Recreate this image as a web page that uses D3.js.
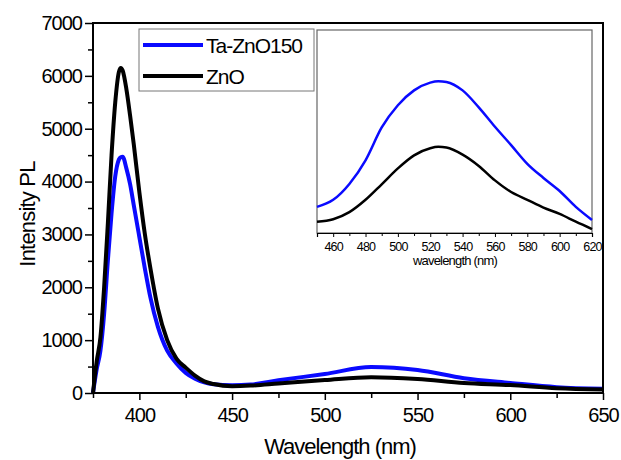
<html>
<head>
    <style>
        body{ margin:0; background:#fff; }
        svg text{ font-family:"Liberation Sans", Arial, sans-serif; }
    </style>
</head>
<body>
<svg id="chart" width="621" height="460"></svg>
<script src="https://cdnjs.cloudflare.com/ajax/libs/d3/7.8.5/d3.min.js"></script>
<script>
    // main spectra
    var wavelength = [375, 377, 379, 381, 383, 385, 387, 389, 390, 391, 393, 395, 397, 400, 403, 406, 410, 415, 420, 425, 430, 435, 440, 450, 460, 475, 500, 525, 550, 575, 600, 625, 650];
    var taZnO150 = [0, 450, 800, 1500, 2500, 3400, 4100, 4420, 4460, 4470, 4250, 3950, 3550, 2950, 2350, 1800, 1250, 800, 560, 380, 270, 200, 165, 145, 160, 240, 360, 490, 435, 280, 190, 110, 80];
    var znO = [0, 600, 1050, 2000, 3200, 4500, 5500, 6080, 6150, 6100, 5750, 5250, 4700, 3800, 3000, 2350, 1600, 1000, 650, 480, 330, 220, 170, 130, 140, 180, 245, 300, 265, 190, 150, 90, 65];

    // inset (arbitrary units)
    var insetWavelength = [450, 460, 470, 480, 490, 500, 510, 520, 525, 530, 540, 550, 560, 570, 580, 590, 600, 610, 620];
    var insetTa = [130, 150, 195, 262, 355, 418, 460, 482, 486, 484, 460, 412, 357, 305, 252, 212, 175, 130, 93];
    var insetZnO = [88, 95, 115, 150, 194, 239, 276, 296, 300, 298, 278, 246, 205, 172, 150, 128, 110, 88, 67];

    var seriesNames = ['Ta-ZnO150', 'ZnO'];
    var colors = ['#0a0aff', '#000000'];

    var svg = d3.select('#chart');

    // ---- main plot ----
    var mLeft = 93, mRight = 603, mTop = 23, mBottom = 393;
    var x = d3.scaleLinear().domain([375, 650]).range([mLeft, mRight]);
    var y = d3.scaleLinear().domain([0, 7000]).range([mBottom, mTop]);

    var xAxis = svg.append('g')
        .attr('transform', 'translate(0,' + mBottom + ')')
        .call(d3.axisBottom(x).tickValues(d3.range(375, 651, 25)).tickSize(7).tickPadding(8)
            .tickFormat(d => (d % 50 === 0 ? d : '')));
    xAxis.selectAll('.tick line').attr('y2', d => d % 50 === 0 ? 7 : 5);

    var yAxis = svg.append('g')
        .attr('transform', 'translate(' + mLeft + ',0)')
        .call(d3.axisLeft(y).tickValues(d3.range(0, 7001, 500)).tickSize(8).tickPadding(3)
            .tickFormat(d => (d % 1000 === 0 ? d : '')));
    yAxis.selectAll('.tick line').attr('x2', d => d % 1000 === 0 ? -8 : -5);

    svg.selectAll('.domain').remove();
    svg.selectAll('.tick line').attr('stroke', '#000').attr('stroke-width', 1.5);
    svg.selectAll('.tick text')
        .attr('fill', '#000')
        .style('font-size', '20px')
        .style('letter-spacing', '-1px');

    var line = d3.line()
        .x((d, i) => x(wavelength[i]))
        .y(d => y(d))
        .curve(d3.curveMonotoneX);

    [taZnO150, znO].forEach(function (s, k) {
        svg.append('path')
            .attr('d', line(s))
            .attr('fill', 'none')
            .attr('stroke', colors[k])
            .attr('stroke-width', 4)
            .attr('stroke-linejoin', 'round');
    });

    svg.append('rect')
        .attr('x', mLeft).attr('y', mTop)
        .attr('width', mRight - mLeft).attr('height', mBottom - mTop)
        .attr('fill', 'none').attr('stroke', '#000').attr('stroke-width', 2);

    svg.append('text')
        .attr('x', 340).attr('y', 454)
        .attr('text-anchor', 'middle')
        .style('font-size', '22px').style('letter-spacing', '-1px')
        .text('Wavelength (nm)');

    svg.append('text')
        .attr('transform', 'translate(35,214) rotate(-90)')
        .attr('text-anchor', 'middle')
        .style('font-size', '22px').style('letter-spacing', '-0.8px')
        .text('Intensity PL');

    // ---- legend ----
    var legend = svg.append('g');
    legend.append('rect')
        .attr('x', 139).attr('y', 29).attr('width', 175).attr('height', 62)
        .attr('fill', '#fff').attr('stroke', '#777').attr('stroke-width', 1);
    seriesNames.forEach(function (name, k) {
        var ly = 45 + k * 31;
        legend.append('line')
            .attr('x1', 143).attr('x2', 203).attr('y1', ly).attr('y2', ly)
            .attr('stroke', colors[k]).attr('stroke-width', 4);
        legend.append('text')
            .attr('x', 206).attr('y', ly + 8)
            .style('font-size', '21px').style('letter-spacing', '-1px')
            .text(name);
    });

    // ---- inset ----
    var iLeft = 317, iRight = 592, iTop = 30, iBottom = 233;
    var ix = d3.scaleLinear().domain([450, 620]).range([iLeft, iRight]);
    var iy = d3.scaleLinear().domain([56, 631]).range([iBottom, iTop]);

    var inset = svg.append('g');
    inset.append('rect')
        .attr('x', iLeft).attr('y', iTop)
        .attr('width', iRight - iLeft).attr('height', iBottom - iTop)
        .attr('fill', '#fff').attr('stroke', '#666').attr('stroke-width', 1.2);

    var ixAxis = inset.append('g')
        .attr('transform', 'translate(0,' + iBottom + ')')
        .call(d3.axisBottom(ix).tickValues(d3.range(450, 621, 10)).tickSize(4).tickPadding(5)
            .tickFormat(d => (d % 20 === 0 ? d : '')));
    ixAxis.select('.domain').attr('stroke', '#000').attr('stroke-width', 1.2);
    ixAxis.selectAll('.tick line').attr('y2', d => d % 20 === 0 ? 4 : 3).attr('stroke', '#000');
    ixAxis.selectAll('.tick text')
        .attr('fill', '#000')
        .style('font-size', '12.5px')
        .style('letter-spacing', '-0.8px');

    var iLine = d3.line()
        .x((d, i) => ix(insetWavelength[i]))
        .y(d => iy(d))
        .curve(d3.curveMonotoneX);

    [insetTa, insetZnO].forEach(function (s, k) {
        inset.append('path')
            .attr('d', iLine(s))
            .attr('fill', 'none')
            .attr('stroke', colors[k])
            .attr('stroke-width', 2.5);
    });

    inset.append('text')
        .attr('x', 455).attr('y', 265)
        .attr('text-anchor', 'middle')
        .style('font-size', '13px').style('letter-spacing', '-0.8px')
        .text('wavelength (nm)');
</script>
</body>
</html>
